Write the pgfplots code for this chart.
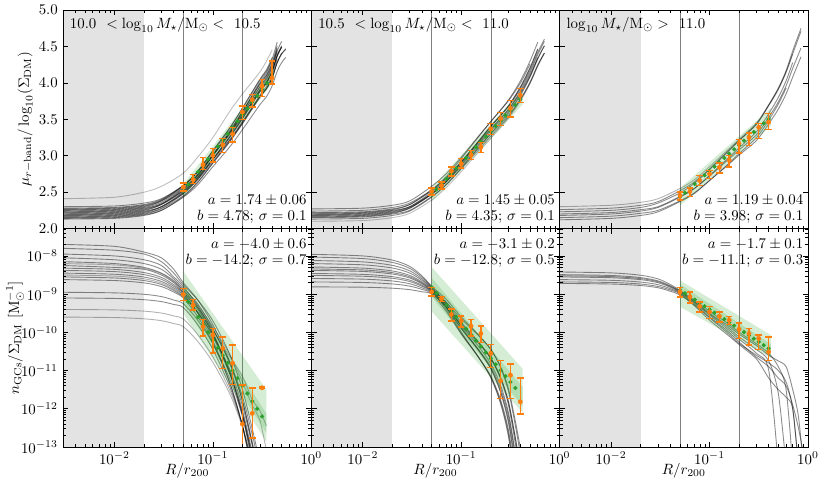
\documentclass[border=0pt]{standalone}
\usepackage{pgfplots}
\pgfplotsset{compat=1.18}
\definecolor{tabor}{HTML}{FF7F0E}
\definecolor{tabgr}{HTML}{2CA02C}
\definecolor{shadegrey}{HTML}{E3E3E3}
\pgfplotsset{
  panel/.style={
    scale only axis, width=167.1pt, height=147pt,
    xmin=0.003, xmax=1,
    xtick={0.01,0.1,1},
    minor xtick={0.003,0.004,0.005,0.006,0.007,0.008,0.009,0.02,0.03,0.04,0.05,0.06,0.07,0.08,0.09,0.2,0.3,0.4,0.5,0.6,0.7,0.8,0.9},
    tick align=inside, xtick pos=both, ytick pos=both,
    major tick length=3.5pt, minor tick length=2pt,
    every tick/.append style={black, line width=0.45pt},
    axis line style={line width=0.6pt},
    unbounded coords=jump, clip marker paths=true,
    axis on top, anchor=south west,
  },
  toprow/.style={panel, ymin=2, ymax=5, ytick={2,2.5,3,3.5,4,4.5,5}, xticklabels={}},
  botrow/.style={panel, ymin=1e-13, ymax=5.2e-8,
    ytick={1e-13,1e-12,1e-11,1e-10,1e-9,1e-8},
    minor ytick={2e-13,3e-13,4e-13,5e-13,6e-13,7e-13,8e-13,9e-13,2e-12,3e-12,4e-12,5e-12,6e-12,7e-12,8e-12,9e-12,2e-11,3e-11,4e-11,5e-11,6e-11,7e-11,8e-11,9e-11,2e-10,3e-10,4e-10,5e-10,6e-10,7e-10,8e-10,9e-10,2e-9,3e-9,4e-9,5e-9,6e-9,7e-9,8e-9,9e-9,2e-8,3e-8,4e-8,5e-8},
    xlabel={$R/r_{200}$},
    xlabel style={at={(axis description cs:0.5,-0.11)}, anchor=center},
  },
  gcurve/.style={black, opacity=0.45, line width=0.6pt, smooth, no markers},
  vline/.style={black!50, line width=0.4pt, no markers},
  shadefill/.style={fill=shadegrey, draw=none, no markers},
  gband/.style={fill=tabgr, fill opacity=0.2, draw=none, no markers},
  gdots/.style={tabgr, only marks, mark=*, mark size=1.2pt},
  obars/.style={tabor, line width=1pt, mark=-, mark size=2.2pt, mark options={solid, line width=1pt}},
  opts/.style={tabor, only marks, mark=*, mark size=1.4pt},
}
\tikzset{ann/.style={inner sep=0pt, outer sep=0pt}}
\begin{document}
\begin{tikzpicture}
\useasboundingbox (0,0) rectangle (559.2pt,329.7pt);
% ================= TOP LEFT =================
\begin{axis}[xmode=log, toprow, at={(42.4pt,175.9pt)},
  ylabel={$\mu_{r-\mathrm{band}}/\log_{10}(\Sigma_\mathrm{DM})$},
  ylabel style={at={(axis description cs:-0.152,0.5)}, anchor=center},
  yticklabel style={/pgf/number format/fixed, /pgf/number format/fixed zerofill, /pgf/number format/precision=1}]
\addplot[shadefill] coordinates {(0.001,1) (0.02,1) (0.02,6) (0.001,6)} --cycle;
\addplot[vline] coordinates {(0.05,1) (0.05,6)};
\addplot[vline] coordinates {(0.2,1) (0.2,6)};
\addplot[gcurve] coordinates {(0.003,2.13)(0.01,2.14)(0.02,2.18)(0.03,2.25)(0.05,2.44)(0.07,2.63)(0.1,2.90)(0.15,3.21)(0.2,3.46)(0.3,3.83)(0.35,3.95)(0.4,4.11)(0.45,4.33)};
\addplot[gcurve] coordinates {(0.003,2.15)(0.01,2.16)(0.02,2.20)(0.03,2.27)(0.05,2.45)(0.07,2.64)(0.1,2.90)(0.15,3.20)(0.2,3.44)(0.3,3.80)(0.35,3.92)(0.4,4.07)(0.45,4.28)(0.5,4.41)};
\addplot[gcurve] coordinates {(0.003,2.16)(0.01,2.17)(0.02,2.21)(0.03,2.28)(0.05,2.48)(0.07,2.68)(0.1,2.95)(0.15,3.27)(0.2,3.53)(0.3,3.91)(0.35,4.04)(0.4,4.20)(0.45,4.43)};
\addplot[gcurve] coordinates {(0.003,2.18)(0.01,2.19)(0.02,2.23)(0.03,2.30)(0.05,2.49)(0.07,2.68)(0.1,2.95)(0.15,3.26)(0.2,3.51)(0.3,3.88)(0.35,4.00)(0.4,4.16)(0.45,4.38)(0.5,4.51)};
\addplot[gcurve] coordinates {(0.003,2.19)(0.01,2.20)(0.02,2.24)(0.03,2.30)(0.05,2.48)(0.07,2.67)(0.1,2.92)(0.15,3.22)(0.2,3.45)(0.3,3.81)(0.35,3.92)(0.4,4.07)(0.45,4.28)(0.5,4.40)(0.55,4.47)};
\addplot[gcurve] coordinates {(0.003,2.20)(0.01,2.21)(0.02,2.25)(0.03,2.33)(0.05,2.53)(0.07,2.73)(0.1,3.01)(0.15,3.33)(0.2,3.60)(0.3,3.99)(0.35,4.11)(0.4,4.28)(0.45,4.51)};
\addplot[gcurve] coordinates {(0.003,2.21)(0.01,2.22)(0.02,2.26)(0.03,2.33)(0.05,2.51)(0.07,2.70)(0.1,2.96)(0.15,3.27)(0.2,3.51)(0.3,3.88)(0.35,3.99)(0.4,4.15)(0.45,4.37)(0.5,4.49)};
\addplot[gcurve] coordinates {(0.003,2.22)(0.01,2.23)(0.02,2.27)(0.03,2.34)(0.05,2.54)(0.07,2.73)(0.1,3.01)(0.15,3.32)(0.2,3.58)(0.3,3.95)(0.35,4.08)(0.4,4.24)(0.45,4.46)};
\addplot[gcurve] coordinates {(0.003,2.23)(0.01,2.24)(0.02,2.28)(0.03,2.34)(0.05,2.52)(0.07,2.70)(0.1,2.95)(0.15,3.23)(0.2,3.47)(0.3,3.81)(0.35,3.92)(0.4,4.07)(0.45,4.28)(0.5,4.40)(0.55,4.46)};
\addplot[gcurve] coordinates {(0.003,2.24)(0.01,2.25)(0.02,2.29)(0.03,2.36)(0.05,2.55)(0.07,2.74)(0.1,3.01)(0.15,3.32)(0.2,3.57)(0.3,3.94)(0.35,4.06)(0.4,4.22)(0.45,4.44)(0.5,4.57)};
\addplot[gcurve] coordinates {(0.003,2.25)(0.01,2.26)(0.02,2.30)(0.03,2.38)(0.05,2.58)(0.07,2.78)(0.1,3.07)(0.15,3.39)(0.2,3.66)(0.3,4.05)(0.35,4.18)(0.4,4.35)};
\addplot[gcurve] coordinates {(0.003,2.26)(0.01,2.27)(0.02,2.31)(0.03,2.38)(0.05,2.56)(0.07,2.74)(0.1,3.00)(0.15,3.30)(0.2,3.54)(0.3,3.89)(0.35,4.01)(0.4,4.16)(0.45,4.37)(0.5,4.50)};
\addplot[gcurve] coordinates {(0.003,2.28)(0.01,2.29)(0.02,2.33)(0.03,2.40)(0.05,2.59)(0.07,2.78)(0.1,3.05)(0.15,3.36)(0.2,3.61)(0.3,3.98)(0.35,4.10)(0.4,4.26)(0.45,4.48)};
\addplot[gcurve] coordinates {(0.003,2.30)(0.01,2.31)(0.02,2.35)(0.03,2.41)(0.05,2.59)(0.07,2.77)(0.1,3.02)(0.15,3.32)(0.2,3.55)(0.3,3.90)(0.35,4.01)(0.4,4.16)(0.45,4.37)(0.5,4.49)};
\addplot[gcurve] coordinates {(0.003,2.17)(0.01,2.18)(0.02,2.22)(0.03,2.30)(0.05,2.50)(0.07,2.71)(0.1,3.00)(0.15,3.34)(0.2,3.61)(0.3,4.01)(0.35,4.14)(0.4,4.31)};
\addplot[gcurve, opacity=0.25] coordinates {(0.003,2.41)(0.01,2.43)(0.02,2.50)(0.03,2.58)(0.05,2.76)(0.07,2.98)(0.1,3.25)(0.15,3.62)(0.2,3.85)(0.3,4.15)(0.35,4.30)(0.4,4.45)};
\addplot[gcurve] coordinates {(0.003,2.14)(0.01,2.15)(0.02,2.19)(0.03,2.25)(0.05,2.43)(0.07,2.60)(0.1,2.85)(0.15,3.13)(0.2,3.36)(0.3,3.70)(0.35,3.81)(0.4,3.96)(0.45,4.16)(0.5,4.28)(0.55,4.35)};
\addplot[gcurve] coordinates {(0.003,2.27)(0.01,2.28)(0.02,2.32)(0.03,2.39)(0.05,2.59)(0.07,2.79)(0.1,3.07)(0.15,3.39)(0.2,3.65)(0.3,4.04)(0.35,4.16)(0.4,4.33)(0.45,4.56)};
\addplot[gband] coordinates {(0.05,2.61) (0.42,4.21) (0.42,4.03) (0.05,2.43)} --cycle;
\addplot[gdots] coordinates {(0.0501,2.518)(0.0562,2.605)(0.0631,2.692)(0.0708,2.779)(0.0794,2.866)(0.0891,2.953)(0.1,3.040)(0.1122,3.127)(0.1259,3.214)(0.1413,3.301)(0.1585,3.388)(0.1778,3.475)(0.1995,3.562)(0.2239,3.649)(0.2512,3.736)(0.2818,3.823)(0.3162,3.910)(0.3548,3.997)(0.3981,4.084)};
\addplot[obars] coordinates {(0.0501,2.513)(0.0501,2.624)(0.0501,nan)(0.0631,2.62)(0.0631,2.74)(0.0631,nan)(0.0794,2.812)(0.0794,2.973)(0.0794,nan)(0.1,2.913)(0.1,3.097)(0.1,nan)(0.1259,3.042)(0.1259,3.234)(0.1259,nan)(0.1585,3.188)(0.1585,3.386)(0.1585,nan)(0.1995,3.496)(0.1995,3.683)(0.1995,nan)(0.2512,3.670)(0.2512,3.844)(0.2512,nan)(0.3162,3.817)(0.3162,4.05)(0.3162,nan)(0.3981,3.982)(0.3981,4.298)};
\addplot[opts] coordinates {(0.0501,2.57)(0.0631,2.67)(0.0794,2.876)(0.1,3.005)(0.1259,3.15)(0.1585,3.30)(0.1995,3.60)(0.2512,3.77)(0.3162,3.954)(0.3981,4.07)};
\node[ann, anchor=base west] at (rel axis cs:0.028,0.916) {10.0~ $<\log_{10}M_\star/\mathrm{M}_\odot<$~ 10.5};
\node[ann, anchor=base east] at (rel axis cs:0.981,0.108) {$a=1.74\pm0.06$};
\node[ann, anchor=base east] at (rel axis cs:0.981,0.035) {$b=4.78$; $\sigma=0.1$};
\end{axis}
% ================= TOP MIDDLE =================
\begin{axis}[xmode=log, toprow, at={(209.5pt,175.9pt)}, yticklabels={}]
\addplot[shadefill] coordinates {(0.001,1) (0.02,1) (0.02,6) (0.001,6)} --cycle;
\addplot[vline] coordinates {(0.05,1) (0.05,6)};
\addplot[vline] coordinates {(0.2,1) (0.2,6)};
\addplot[gcurve] coordinates {(0.003,2.13)(0.01,2.14)(0.02,2.18)(0.03,2.24)(0.05,2.43)(0.07,2.60)(0.1,2.83)(0.15,3.11)(0.2,3.31)(0.3,3.58)(0.4,3.83)(0.5,4.08)(0.6,4.33)(0.7,4.51)};
\addplot[gcurve] coordinates {(0.003,2.15)(0.01,2.16)(0.02,2.20)(0.03,2.25)(0.05,2.44)(0.07,2.60)(0.1,2.82)(0.15,3.08)(0.2,3.27)(0.3,3.53)(0.4,3.77)(0.5,4.00)(0.6,4.24)(0.7,4.41)};
\addplot[gcurve] coordinates {(0.003,2.16)(0.01,2.17)(0.02,2.21)(0.03,2.28)(0.05,2.48)(0.07,2.65)(0.1,2.90)(0.15,3.19)(0.2,3.40)(0.3,3.68)(0.4,3.95)(0.5,4.21)(0.6,4.47)};
\addplot[gcurve] coordinates {(0.003,2.18)(0.01,2.19)(0.02,2.23)(0.03,2.29)(0.05,2.47)(0.07,2.64)(0.1,2.87)(0.15,3.14)(0.2,3.34)(0.3,3.60)(0.4,3.85)(0.5,4.09)(0.6,4.34)(0.7,4.51)};
\addplot[gcurve] coordinates {(0.003,2.19)(0.01,2.20)(0.02,2.24)(0.03,2.30)(0.05,2.50)(0.07,2.67)(0.1,2.91)(0.15,3.20)(0.2,3.41)(0.3,3.68)(0.4,3.94)(0.5,4.20)(0.6,4.46)};
\addplot[gcurve] coordinates {(0.003,2.20)(0.01,2.21)(0.02,2.25)(0.03,2.30)(0.05,2.48)(0.07,2.64)(0.1,2.85)(0.15,3.11)(0.2,3.30)(0.3,3.55)(0.4,3.78)(0.5,4.01)(0.6,4.25)(0.7,4.41)};
\addplot[gcurve] coordinates {(0.003,2.21)(0.01,2.22)(0.02,2.26)(0.03,2.33)(0.05,2.53)(0.07,2.71)(0.1,2.96)(0.15,3.26)(0.2,3.47)(0.3,3.76)(0.4,4.03)(0.5,4.30)(0.6,4.56)};
\addplot[gcurve] coordinates {(0.003,2.22)(0.01,2.23)(0.02,2.27)(0.03,2.33)(0.05,2.52)(0.07,2.69)(0.1,2.92)(0.15,3.20)(0.2,3.40)(0.3,3.67)(0.4,3.92)(0.5,4.17)(0.6,4.42)(0.7,4.60)};
\addplot[gcurve] coordinates {(0.003,2.24)(0.01,2.25)(0.02,2.29)(0.03,2.35)(0.05,2.53)(0.07,2.69)(0.1,2.91)(0.15,3.18)(0.2,3.37)(0.3,3.63)(0.4,3.87)(0.5,4.11)(0.6,4.35)};
\addplot[gcurve] coordinates {(0.003,2.27)(0.01,2.28)(0.02,2.32)(0.03,2.38)(0.05,2.58)(0.07,2.75)(0.1,2.98)(0.15,3.27)(0.2,3.47)(0.3,3.75)(0.4,4.00)(0.5,4.26)};
\addplot[gcurve, opacity=0.25] coordinates {(0.003,2.10)(0.01,2.11)(0.02,2.15)(0.03,2.21)(0.05,2.39)(0.07,2.56)(0.1,2.78)(0.15,3.05)(0.2,3.24)(0.3,3.51)(0.4,3.75)(0.5,3.99)(0.6,4.23)(0.7,4.41)};
\addplot[gcurve] coordinates {(0.003,2.17)(0.01,2.18)(0.02,2.22)(0.03,2.28)(0.05,2.47)(0.07,2.64)(0.1,2.88)(0.15,3.16)(0.2,3.36)(0.3,3.63)(0.4,3.89)(0.5,4.14)(0.6,4.39)(0.7,4.57)};
\addplot[gband] coordinates {(0.05,2.565) (0.42,3.90) (0.42,3.70) (0.05,2.365)} --cycle;
\addplot[gdots] coordinates {(0.0501,2.465)(0.0562,2.538)(0.0631,2.610)(0.0708,2.683)(0.0794,2.755)(0.0891,2.828)(0.1,2.900)(0.1122,2.973)(0.1259,3.045)(0.1413,3.118)(0.1585,3.190)(0.1778,3.263)(0.1995,3.335)(0.2239,3.408)(0.2512,3.480)(0.2818,3.553)(0.3162,3.625)(0.3548,3.698)(0.3981,3.770)};
\addplot[obars] coordinates {(0.0501,2.464)(0.0501,2.555)(0.0501,nan)(0.0631,2.546)(0.0631,2.637)(0.0631,nan)(0.0794,2.720)(0.0794,2.844)(0.0794,nan)(0.1,2.830)(0.1,2.959)(0.1,nan)(0.1259,2.945)(0.1259,3.073)(0.1259,nan)(0.1585,3.042)(0.1585,3.179)(0.1585,nan)(0.1995,3.290)(0.1995,3.441)(0.1995,nan)(0.2512,3.418)(0.2512,3.592)(0.2512,nan)(0.3162,3.532)(0.3162,3.761)(0.3162,nan)(0.3981,3.730)(0.3981,3.923)};
\addplot[opts] coordinates {(0.0501,2.51)(0.0631,2.59)(0.0794,2.79)(0.1,2.89)(0.1259,3.01)(0.1585,3.12)(0.1995,3.37)(0.2512,3.51)(0.3162,3.65)(0.3981,3.83)};
\node[ann, anchor=base west] at (rel axis cs:0.028,0.916) {10.5~ $<\log_{10}M_\star/\mathrm{M}_\odot<$~ 11.0};
\node[ann, anchor=base east] at (rel axis cs:0.981,0.108) {$a=1.45\pm0.05$};
\node[ann, anchor=base east] at (rel axis cs:0.981,0.035) {$b=4.35$; $\sigma=0.1$};
\end{axis}
% ================= TOP RIGHT =================
\begin{axis}[xmode=log, toprow, at={(376.6pt,175.9pt)}, yticklabels={}]
\addplot[shadefill] coordinates {(0.001,1) (0.02,1) (0.02,6) (0.001,6)} --cycle;
\addplot[vline] coordinates {(0.05,1) (0.05,6)};
\addplot[vline] coordinates {(0.2,1) (0.2,6)};
\addplot[gcurve, opacity=0.3] coordinates {(0.003,2.30)(0.01,2.32)(0.02,2.36)(0.03,2.41)(0.05,2.55)(0.07,2.67)(0.1,2.85)(0.15,3.07)(0.2,3.23)(0.3,3.45)(0.4,3.70)(0.5,3.92)(0.6,4.15)(0.7,4.40)};
\addplot[gcurve] coordinates {(0.003,2.23)(0.01,2.25)(0.02,2.29)(0.03,2.35)(0.05,2.49)(0.07,2.62)(0.1,2.81)(0.15,3.04)(0.2,3.21)(0.3,3.44)(0.4,3.70)(0.5,3.93)(0.6,4.17)(0.7,4.44)(0.85,4.75)};
\addplot[gcurve] coordinates {(0.003,2.20)(0.01,2.22)(0.02,2.26)(0.03,2.30)(0.05,2.44)(0.07,2.55)(0.1,2.72)(0.15,2.93)(0.2,3.08)(0.3,3.29)(0.4,3.53)(0.5,3.74)(0.6,3.96)(0.7,4.20)(0.85,4.48)};
\addplot[gcurve] coordinates {(0.003,2.18)(0.01,2.20)(0.02,2.24)(0.03,2.29)(0.05,2.43)(0.07,2.55)(0.1,2.73)(0.15,2.95)(0.2,3.11)(0.3,3.33)(0.4,3.58)(0.5,3.80)(0.6,4.03)(0.7,4.28)};
\addplot[gcurve] coordinates {(0.003,2.15)(0.01,2.17)(0.02,2.21)(0.03,2.25)(0.05,2.38)(0.07,2.49)(0.1,2.66)(0.15,2.86)(0.2,3.01)(0.3,3.21)(0.4,3.44)(0.5,3.64)(0.6,3.85)(0.7,4.08)(0.85,4.36)};
\addplot[gcurve] coordinates {(0.003,2.12)(0.01,2.14)(0.02,2.18)(0.03,2.23)(0.05,2.37)(0.07,2.48)(0.1,2.66)(0.15,2.87)(0.2,3.03)(0.3,3.25)(0.4,3.49)(0.5,3.71)(0.6,3.93)};
\addplot[gcurve] coordinates {(0.003,2.26)(0.01,2.28)(0.02,2.32)(0.03,2.37)(0.05,2.52)(0.07,2.64)(0.1,2.82)(0.15,3.05)(0.2,3.21)(0.3,3.43)(0.4,3.69)(0.5,3.91)(0.6,4.15)(0.7,4.40)(0.85,4.71)};
\addplot[gband] coordinates {(0.05,2.553) (0.42,3.651) (0.42,3.411) (0.05,2.313)} --cycle;
\addplot[gdots] coordinates {(0.0501,2.433)(0.0562,2.493)(0.0631,2.552)(0.0708,2.612)(0.0794,2.671)(0.0891,2.731)(0.1,2.790)(0.1122,2.850)(0.1259,2.909)(0.1413,2.969)(0.1585,3.028)(0.1778,3.088)(0.1995,3.147)(0.2239,3.207)(0.2512,3.266)(0.2818,3.326)(0.3162,3.385)(0.3548,3.445)(0.3981,3.504)};
\addplot[obars] coordinates {(0.0501,2.395)(0.0501,2.500)(0.0501,nan)(0.0631,2.440)(0.0631,2.560)(0.0631,nan)(0.0794,2.592)(0.0794,2.729)(0.0794,nan)(0.1,2.684)(0.1,2.798)(0.1,nan)(0.1259,2.761)(0.1259,2.899)(0.1259,nan)(0.1585,2.844)(0.1585,3.005)(0.1585,nan)(0.1995,3.036)(0.1995,3.220)(0.1995,nan)(0.2512,3.138)(0.2512,3.312)(0.2512,nan)(0.3162,3.234)(0.3162,3.441)(0.3162,nan)(0.3981,3.358)(0.3981,3.578)};
\addplot[opts] coordinates {(0.0501,2.454)(0.0631,2.51)(0.0794,2.66)(0.1,2.75)(0.1259,2.84)(0.1585,2.94)(0.1995,3.17)(0.2512,3.25)(0.3162,3.39)(0.3981,3.46)};
\node[ann, anchor=base west] at (rel axis cs:0.028,0.916) {$\log_{10}M_\star/\mathrm{M}_\odot>$~ 11.0};
\node[ann, anchor=base east] at (rel axis cs:0.981,0.108) {$a=1.19\pm0.04$};
\node[ann, anchor=base east] at (rel axis cs:0.981,0.035) {$b=3.98$; $\sigma=0.1$};
\end{axis}
% ================= BOTTOM LEFT =================
\begin{axis}[xmode=log, ymode=log, botrow, at={(42.4pt,28.9pt)},
  ylabel={$n_\mathrm{GCs}/\Sigma_\mathrm{DM}\ [\mathrm{M}_\odot^{-1}]$},
  ylabel style={at={(axis description cs:-0.193,0.5)}, anchor=center}]
\addplot[shadefill] coordinates {(0.001,1e-15) (0.02,1e-15) (0.02,1e-6) (0.001,1e-6)} --cycle;
\addplot[vline] coordinates {(0.05,1e-15) (0.05,1e-6)};
\addplot[vline] coordinates {(0.2,1e-15) (0.2,1e-6)};
\addplot[gcurve] coordinates {(0.003,2.00e-8)(0.01,1.78e-8)(0.02,1.26e-8)(0.03,8.91e-9)(0.04,4.47e-9)(0.05,2.00e-9)(0.07,7.08e-10)(0.1,1.58e-10)(0.15,1.58e-11)(0.2,1.58e-12)(0.25,1.26e-13)(0.3,1.26e-14)};
\addplot[gcurve] coordinates {(0.003,1.58e-8)(0.01,1.41e-8)(0.02,1.12e-8)(0.03,7.08e-9)(0.04,3.55e-9)(0.05,1.78e-9)(0.07,7.08e-10)(0.1,2.00e-10)(0.15,2.51e-11)(0.2,3.16e-12)(0.25,3.16e-13)(0.3,3.98e-14)};
\addplot[gcurve] coordinates {(0.003,1.12e-8)(0.01,1.00e-8)(0.02,7.94e-9)(0.03,5.62e-9)(0.04,2.82e-9)(0.05,1.58e-9)(0.07,5.01e-10)(0.1,1.00e-10)(0.15,7.94e-12)(0.2,6.31e-13)(0.25,3.98e-14)(0.3,3.16e-15)};
\addplot[gcurve] coordinates {(0.003,8.91e-9)(0.01,7.94e-9)(0.02,6.31e-9)(0.03,4.47e-9)(0.04,2.51e-9)(0.05,1.41e-9)(0.07,5.62e-10)(0.1,1.26e-10)(0.15,1.41e-11)(0.2,1.58e-12)(0.25,1.41e-13)(0.3,1.58e-14)};
\addplot[gcurve] coordinates {(0.003,7.08e-9)(0.01,6.31e-9)(0.02,5.01e-9)(0.03,3.55e-9)(0.04,2.24e-9)(0.05,1.26e-9)(0.07,4.47e-10)(0.1,8.91e-11)(0.15,7.94e-12)(0.2,7.08e-13)(0.25,5.01e-14)(0.3,4.47e-15)};
\addplot[gcurve] coordinates {(0.003,5.62e-9)(0.01,5.01e-9)(0.02,4.47e-9)(0.03,3.16e-9)(0.04,2.00e-9)(0.05,1.12e-9)(0.07,3.98e-10)(0.1,8.91e-11)(0.15,8.91e-12)(0.2,8.91e-13)(0.25,7.4e-14)(0.3,7.4e-15)};
\addplot[gcurve] coordinates {(0.003,4.79e-9)(0.01,4.45e-9)(0.02,3.67e-9)(0.03,2.74e-9)(0.04,1.76e-9)(0.05,1.10e-9)(0.07,4.41e-10)(0.1,1.18e-10)(0.15,1.56e-11)(0.2,2.05e-12)(0.25,2.21e-13)(0.3,2.91e-14)};
\addplot[gcurve] coordinates {(0.003,4.17e-9)(0.01,3.89e-9)(0.02,3.24e-9)(0.03,2.44e-9)(0.04,1.60e-9)(0.05,1.02e-9)(0.07,3.21e-10)(0.1,6.00e-11)(0.15,4.55e-12)(0.2,3.45e-13)(0.25,2.0e-14)(0.3,1.6e-15)};
\addplot[gcurve] coordinates {(0.003,3.55e-9)(0.01,3.32e-9)(0.02,2.80e-9)(0.03,2.15e-9)(0.04,1.45e-9)(0.05,9.55e-10)(0.07,3.39e-10)(0.1,7.59e-11)(0.15,7.59e-12)(0.2,7.59e-13)(0.25,6.03e-14)(0.3,6.0e-15)};
\addplot[gcurve] coordinates {(0.003,2.82e-9)(0.01,2.65e-9)(0.02,2.27e-9)(0.03,1.79e-9)(0.04,1.25e-9)(0.05,8.51e-10)(0.07,3.28e-10)(0.1,8.28e-11)(0.15,9.95e-12)(0.2,1.20e-12)(0.25,1.16e-13)(0.3,1.40e-14)};
\addplot[gcurve] coordinates {(0.003,2.40e-9)(0.01,2.27e-9)(0.02,1.97e-9)(0.03,1.58e-9)(0.04,1.13e-9)(0.05,7.94e-10)(0.07,2.59e-10)(0.1,5.15e-11)(0.15,4.29e-12)(0.2,3.56e-13)(0.25,2.3e-14)(0.3,2e-15)};
\addplot[gcurve] coordinates {(0.003,1.12e-9)(0.01,1.08e-9)(0.02,9.91e-10)(0.03,8.63e-10)(0.04,7.01e-10)(0.05,5.62e-10)(0.07,2.10e-10)(0.1,5.07e-11)(0.15,5.69e-12)(0.2,6.38e-13)(0.25,5.75e-14)(0.3,6.5e-15)};
\addplot[gcurve] coordinates {(0.003,7.94e-10)(0.01,7.72e-10)(0.02,7.16e-10)(0.03,6.38e-10)(0.04,5.37e-10)(0.05,4.47e-10)(0.07,1.58e-10)(0.1,3.55e-11)(0.15,3.55e-12)(0.2,3.55e-13)(0.25,2.8e-14)(0.3,2.8e-15)};
\addplot[gcurve, opacity=0.3] coordinates {(0.003,3.98e-10)(0.01,3.87e-10)(0.02,3.59e-10)(0.03,3.20e-10)(0.04,2.69e-10)(0.05,2.24e-10)(0.07,8.81e-11)(0.1,2.29e-11)(0.15,2.88e-12)(0.2,3.63e-13)(0.25,3.7e-14)(0.3,4.7e-15)};
\addplot[gcurve, opacity=0.3] coordinates {(0.003,2.51e-10)(0.01,2.44e-10)(0.02,2.26e-10)(0.03,2.02e-10)(0.04,1.70e-10)(0.05,1.41e-10)(0.07,5.85e-11)(0.1,1.64e-11)(0.15,2.32e-12)(0.2,3.27e-13)(0.25,3.8e-14)(0.3,5e-15)};
\addplot[gcurve, opacity=0.3] coordinates {(0.003,6.31e-9)(0.01,5.82e-9)(0.02,4.72e-9)(0.03,3.42e-9)(0.04,2.11e-9)(0.05,1.26e-9)(0.07,5.01e-10)(0.1,1.41e-10)(0.15,2.51e-11)(0.2,5.01e-12)(0.25,1.26e-12)(0.3,5.01e-13)(0.35,7.94e-14)};
\addplot[gcurve, opacity=0.3] coordinates {(0.003,3.16e-9)(0.01,2.97e-9)(0.02,2.52e-9)(0.03,1.95e-9)(0.04,1.34e-9)(0.05,8.91e-10)(0.07,3.39e-10)(0.1,1.12e-10)(0.15,2.24e-11)(0.2,7.08e-12)(0.25,1.78e-12)(0.3,8.91e-13)(0.35,3.55e-13)};
\addplot[gband] coordinates {(0.05,3.98e-9) (0.35,3.16e-12) (0.35,1.38e-13) (0.05,3.16e-10)} --cycle;
\addplot[gband] coordinates {(0.05,1.78e-9) (0.35,7.41e-13) (0.35,2.34e-13) (0.05,5.62e-10)} --cycle;
\addplot[gdots] coordinates {(0.0501,1.00e-9)(0.0562,6.31e-10)(0.0631,3.98e-10)(0.0708,2.51e-10)(0.0794,1.58e-10)(0.0891,1.00e-10)(0.1,6.31e-11)(0.1122,3.98e-11)(0.1259,2.51e-11)(0.1413,1.58e-11)(0.1585,1.00e-11)(0.1778,6.31e-12)(0.1995,3.98e-12)(0.2239,2.51e-12)(0.2512,1.58e-12)(0.2818,1.00e-12)(0.3162,6.31e-13)};
\addplot[obars] coordinates {(0.0501,6.92e-10)(0.0501,1.40e-9)(0.0501,nan)(0.0631,3.80e-10)(0.0631,7.24e-10)(0.0631,nan)(0.0794,7.94e-11)(0.0794,2.19e-10)(0.0794,nan)(0.1,2.88e-11)(0.1,1.26e-10)(0.1,nan)(0.1259,1.15e-11)(0.1259,7.59e-11)(0.1259,nan)(0.1585,4.37e-12)(0.1585,4.68e-11)(0.1585,nan)(0.1995,1e-15)(0.1995,4.17e-12)(0.1995,nan)(0.2512,1.74e-13)(0.2512,3.55e-12)(0.2512,nan)(0.3162,3.40e-12)(0.3162,3.70e-12)};
\addplot[opts] coordinates {(0.0501,9.77e-10)(0.0631,5.13e-10)(0.0794,1.41e-10)(0.1,8.51e-11)(0.1259,3.80e-11)(0.1585,1.55e-11)(0.1995,3.98e-13)(0.2512,7.59e-13)(0.3162,3.55e-12)};
\node[ann, anchor=base east] at (rel axis cs:0.981,0.911) {$a=-4.0\pm0.6$};
\node[ann, anchor=base east] at (rel axis cs:0.981,0.834) {$b=-14.2$; $\sigma=0.7$};
\end{axis}
% ================= BOTTOM MIDDLE =================
\begin{axis}[xmode=log, ymode=log, botrow, at={(209.5pt,28.9pt)}, yticklabels={}]
\addplot[shadefill] coordinates {(0.001,1e-15) (0.02,1e-15) (0.02,1e-6) (0.001,1e-6)} --cycle;
\addplot[vline] coordinates {(0.05,1e-15) (0.05,1e-6)};
\addplot[vline] coordinates {(0.2,1e-15) (0.2,1e-6)};
\addplot[gcurve] coordinates {(0.003,1.10e-8)(0.01,1.00e-8)(0.02,7.78e-9)(0.03,5.31e-9)(0.04,2.99e-9)(0.05,1.62e-9)(0.07,7.41e-10)(0.1,2.53e-10)(0.15,8.61e-11)(0.2,3.57e-11)(0.25,1.22e-11)(0.3,3.09e-12)(0.35,4.37e-13)(0.4,6.17e-14)(0.45,8.7e-15)};
\addplot[gcurve] coordinates {(0.003,9.33e-9)(0.01,8.53e-9)(0.02,6.76e-9)(0.03,4.72e-9)(0.04,2.75e-9)(0.05,1.55e-9)(0.07,5.62e-10)(0.1,1.40e-10)(0.15,3.47e-11)(0.2,1.11e-11)(0.25,2.75e-12)(0.3,4.68e-13)(0.35,3.7e-14)(0.4,3.2e-15)};
\addplot[gcurve] coordinates {(0.003,7.59e-9)(0.01,6.99e-9)(0.02,5.65e-9)(0.03,4.07e-9)(0.04,2.49e-9)(0.05,1.48e-9)(0.07,6.17e-10)(0.1,1.85e-10)(0.15,5.56e-11)(0.2,2.08e-11)(0.25,6.24e-12)(0.3,1.35e-12)(0.35,1.51e-13)(0.4,1.7e-14)};
\addplot[gcurve] coordinates {(0.003,6.31e-9)(0.01,5.85e-9)(0.02,4.82e-9)(0.03,3.57e-9)(0.04,2.28e-9)(0.05,1.41e-9)(0.07,4.68e-10)(0.1,1.02e-10)(0.15,2.24e-11)(0.2,6.46e-12)(0.25,1.41e-12)(0.3,2.04e-13)(0.35,1.3e-14)};
\addplot[gcurve] coordinates {(0.003,5.13e-9)(0.01,4.80e-9)(0.02,4.04e-9)(0.03,3.09e-9)(0.04,2.07e-9)(0.05,1.35e-9)(0.07,5.37e-10)(0.1,1.51e-10)(0.15,4.27e-11)(0.2,1.51e-11)(0.25,4.27e-12)(0.3,8.51e-13)(0.35,8.5e-14)(0.4,8.5e-15)};
\addplot[gcurve] coordinates {(0.003,4.57e-9)(0.01,4.30e-9)(0.02,3.65e-9)(0.03,2.84e-9)(0.04,1.95e-9)(0.05,1.30e-9)(0.07,6.24e-10)(0.1,2.26e-10)(0.15,8.22e-11)(0.2,3.59e-11)(0.25,1.30e-11)(0.3,3.59e-12)(0.35,5.69e-13)(0.4,9.0e-14)(0.45,1.4e-14)};
\addplot[gcurve] coordinates {(0.003,4.17e-9)(0.01,3.93e-9)(0.02,3.36e-9)(0.03,2.64e-9)(0.04,1.85e-9)(0.05,1.26e-9)(0.07,4.79e-10)(0.1,1.27e-10)(0.15,3.35e-11)(0.2,1.13e-11)(0.25,2.99e-12)(0.3,5.50e-13)(0.35,4.9e-14)};
\addplot[gcurve] coordinates {(0.003,3.47e-9)(0.01,3.29e-9)(0.02,2.87e-9)(0.03,2.33e-9)(0.04,1.70e-9)(0.05,1.22e-9)(0.07,5.31e-10)(0.1,1.70e-10)(0.15,5.43e-11)(0.2,2.14e-11)(0.25,6.84e-12)(0.3,1.60e-12)(0.35,2.02e-13)(0.4,2.5e-14)};
\addplot[gcurve] coordinates {(0.003,3.09e-9)(0.01,2.94e-9)(0.02,2.60e-9)(0.03,2.14e-9)(0.04,1.60e-9)(0.05,1.17e-9)(0.07,4.07e-10)(0.1,9.49e-11)(0.15,2.21e-11)(0.2,6.72e-12)(0.25,1.57e-12)(0.3,2.45e-13)(0.35,1.7e-14)};
\addplot[gcurve] coordinates {(0.003,2.57e-9)(0.01,2.47e-9)(0.02,2.21e-9)(0.03,1.87e-9)(0.04,1.46e-9)(0.05,1.12e-9)(0.07,4.47e-10)(0.1,1.26e-10)(0.15,3.55e-11)(0.2,1.26e-11)(0.25,3.55e-12)(0.3,7.08e-13)(0.35,7.1e-14)(0.4,7.1e-15)};
\addplot[gcurve] coordinates {(0.003,2.09e-9)(0.01,2.02e-9)(0.02,1.85e-9)(0.03,1.62e-9)(0.04,1.33e-9)(0.05,1.07e-9)(0.07,4.76e-10)(0.1,1.56e-10)(0.15,5.13e-11)(0.2,2.06e-11)(0.25,6.76e-12)(0.3,1.64e-12)(0.35,2.16e-13)(0.4,2.8e-14)};
\addplot[gcurve] coordinates {(0.003,1.55e-9)(0.01,1.52e-9)(0.02,1.43e-9)(0.03,1.31e-9)(0.04,1.15e-9)(0.05,1.00e-9)(0.07,3.63e-10)(0.1,9.02e-11)(0.15,2.24e-11)(0.2,7.16e-12)(0.25,1.78e-12)(0.3,3.02e-13)(0.35,2.4e-14)};
\addplot[gband] coordinates {(0.05,5.13e-9) (0.42,1.12e-11) (0.42,7.94e-13) (0.05,3.55e-10)} --cycle;
\addplot[gband] coordinates {(0.05,2.69e-9) (0.42,3.72e-12) (0.42,1.17e-12) (0.05,8.51e-10)} --cycle;
\addplot[gdots] coordinates {(0.0501,1.51e-9)(0.0562,1.06e-9)(0.0631,7.41e-10)(0.0708,5.19e-10)(0.0794,3.63e-10)(0.0891,2.54e-10)(0.1,1.78e-10)(0.1122,1.24e-10)(0.1259,8.71e-11)(0.1413,6.10e-11)(0.1585,4.27e-11)(0.1778,2.99e-11)(0.1995,2.09e-11)(0.2239,1.46e-11)(0.2512,1.02e-11)(0.2818,7.16e-12)(0.3162,5.01e-12)(0.3548,3.51e-12)};
\addplot[obars] coordinates {(0.0501,8.91e-10)(0.0501,1.48e-9)(0.0501,nan)(0.0631,6.46e-10)(0.0631,8.71e-10)(0.0631,nan)(0.0794,2.00e-10)(0.0794,4.03e-10)(0.0794,nan)(0.1,1.38e-10)(0.1,2.69e-10)(0.1,nan)(0.1259,7.94e-11)(0.1259,2.19e-10)(0.1259,nan)(0.1585,5.37e-11)(0.1585,1.45e-10)(0.1585,nan)(0.1995,1.20e-11)(0.1995,4.79e-11)(0.1995,nan)(0.2512,1.86e-12)(0.2512,1.82e-11)(0.2512,nan)(0.3162,1.86e-12)(0.3162,1.48e-11)(0.3162,nan)(0.3981,7.24e-13)(0.3981,6.31e-12)};
\addplot[opts] coordinates {(0.0501,1.15e-9)(0.0631,7.59e-10)(0.0794,2.95e-10)(0.1,2.00e-10)(0.1259,1.45e-10)(0.1585,9.33e-11)(0.1995,2.82e-11)(0.2512,5.37e-12)(0.3162,7.59e-12)(0.3981,1.53e-12)};
\node[ann, anchor=base east] at (rel axis cs:0.981,0.911) {$a=-3.1\pm0.2$};
\node[ann, anchor=base east] at (rel axis cs:0.981,0.834) {$b=-12.8$; $\sigma=0.5$};
\end{axis}
% ================= BOTTOM RIGHT =================
\begin{axis}[xmode=log, ymode=log, botrow, at={(376.6pt,28.9pt)}, yticklabels={}]
\addplot[shadefill] coordinates {(0.001,1e-15) (0.02,1e-15) (0.02,1e-6) (0.001,1e-6)} --cycle;
\addplot[vline] coordinates {(0.05,1e-15) (0.05,1e-6)};
\addplot[vline] coordinates {(0.2,1e-15) (0.2,1e-6)};
\addplot[gcurve] coordinates {(0.003,3.80e-9)(0.01,3.60e-9)(0.02,3.12e-9)(0.03,2.50e-9)(0.04,1.79e-9)(0.05,1.26e-9)(0.07,7.08e-10)(0.1,3.55e-10)(0.15,1.78e-10)(0.2,1.00e-10)(0.3,5.01e-11)(0.4,2.82e-11)(0.5,1.26e-11)(0.6,3.16e-12)(0.7,3.16e-14)};
\addplot[gcurve] coordinates {(0.003,3.24e-9)(0.01,3.08e-9)(0.02,2.71e-9)(0.03,2.22e-9)(0.04,1.65e-9)(0.05,1.20e-9)(0.07,6.31e-10)(0.1,3.02e-10)(0.15,1.41e-10)(0.2,7.59e-11)(0.3,3.55e-11)(0.4,1.78e-11)(0.5,2.51e-12)(0.6,3.16e-14)};
\addplot[gcurve] coordinates {(0.003,2.82e-9)(0.01,2.69e-9)(0.02,2.39e-9)(0.03,1.99e-9)(0.04,1.51e-9)(0.05,1.12e-9)(0.07,6.03e-10)(0.1,2.82e-10)(0.15,1.26e-10)(0.2,6.61e-11)(0.3,2.82e-11)(0.4,1.00e-11)(0.5,3.16e-14)};
\addplot[gcurve] coordinates {(0.003,2.40e-9)(0.01,2.30e-9)(0.02,2.07e-9)(0.03,1.77e-9)(0.04,1.39e-9)(0.05,1.07e-9)(0.07,5.62e-10)(0.1,2.51e-10)(0.15,1.12e-10)(0.2,5.62e-11)(0.3,2.24e-11)(0.4,1.26e-11)(0.5,6.31e-12)(0.6,3.98e-12)(0.7,1.26e-12)(0.8,3.16e-13)(0.9,6.31e-14)};
\addplot[gcurve] coordinates {(0.003,2.09e-9)(0.01,2.02e-9)(0.02,1.84e-9)(0.03,1.59e-9)(0.04,1.29e-9)(0.05,1.02e-9)(0.07,5.01e-10)(0.1,2.09e-10)(0.15,8.91e-11)(0.2,4.79e-11)(0.3,2.00e-11)(0.4,6.31e-12)(0.5,3.16e-12)(0.6,2.00e-12)(0.7,1.00e-12)(0.8,3.16e-14)};
\addplot[gcurve] coordinates {(0.003,1.91e-9)(0.01,1.84e-9)(0.02,1.68e-9)(0.03,1.47e-9)(0.04,1.19e-9)(0.05,9.55e-10)(0.07,5.25e-10)(0.1,2.40e-10)(0.15,1.00e-10)(0.2,5.13e-11)(0.3,2.51e-11)(0.4,1.58e-11)(0.5,1.00e-11)(0.6,5.01e-12)(0.7,1.00e-12)(0.8,3.16e-14)};
\addplot[gcurve] coordinates {(0.003,3.02e-9)(0.01,2.88e-9)(0.02,2.55e-9)(0.03,2.11e-9)(0.04,1.59e-9)(0.05,1.17e-9)(0.07,6.61e-10)(0.1,3.16e-10)(0.15,1.58e-10)(0.2,8.91e-11)(0.3,4.47e-11)(0.4,2.51e-11)(0.5,1.78e-11)(0.6,1.26e-11)(0.7,3.16e-12)(0.8,6.31e-13)(0.9,3.16e-14)};
\addplot[gband] coordinates {(0.05,2.29e-9) (0.42,8.51e-11) (0.42,2.14e-11) (0.05,4.68e-10)} --cycle;
\addplot[gband] coordinates {(0.05,1.82e-9) (0.42,4.90e-11) (0.42,2.45e-11) (0.05,9.12e-10)} --cycle;
\addplot[gdots] coordinates {(0.0501,1.29e-9)(0.0562,1.06e-9)(0.0631,8.71e-10)(0.0708,7.16e-10)(0.0794,5.89e-10)(0.0891,4.84e-10)(0.1,3.98e-10)(0.1122,3.27e-10)(0.1259,2.69e-10)(0.1413,2.21e-10)(0.1585,1.82e-10)(0.1778,1.50e-10)(0.1995,1.23e-10)(0.2239,1.01e-10)(0.2512,8.32e-11)(0.2818,6.84e-11)(0.3162,5.62e-11)(0.3548,4.62e-11)(0.3981,3.80e-11)};
\addplot[obars] coordinates {(0.0501,8.51e-10)(0.0501,1.48e-9)(0.0501,nan)(0.0631,5.89e-10)(0.0631,1.15e-9)(0.0631,nan)(0.0794,3.43e-10)(0.0794,6.31e-10)(0.0794,nan)(0.1,2.29e-10)(0.1,4.79e-10)(0.1,nan)(0.1259,1.86e-10)(0.1259,3.43e-10)(0.1259,nan)(0.1585,1.60e-10)(0.1585,2.63e-10)(0.1585,nan)(0.1995,6.92e-11)(0.1995,1.78e-10)(0.1995,nan)(0.2512,4.62e-11)(0.2512,1.26e-10)(0.2512,nan)(0.3162,3.55e-11)(0.3162,8.51e-11)(0.3162,nan)(0.3981,1.86e-11)(0.3981,7.59e-11)};
\addplot[opts] coordinates {(0.0501,1.15e-9)(0.0631,8.51e-10)(0.0794,4.79e-10)(0.1,3.43e-10)(0.1259,2.63e-10)(0.1585,2.09e-10)(0.1995,1.20e-10)(0.2512,9.33e-11)(0.3162,6.92e-11)(0.3981,3.09e-11)};
\node[ann, anchor=base east] at (rel axis cs:0.981,0.911) {$a=-1.7\pm0.1$};
\node[ann, anchor=base east] at (rel axis cs:0.981,0.834) {$b=-11.1$; $\sigma=0.3$};
\end{axis}
\end{tikzpicture}
\end{document}
